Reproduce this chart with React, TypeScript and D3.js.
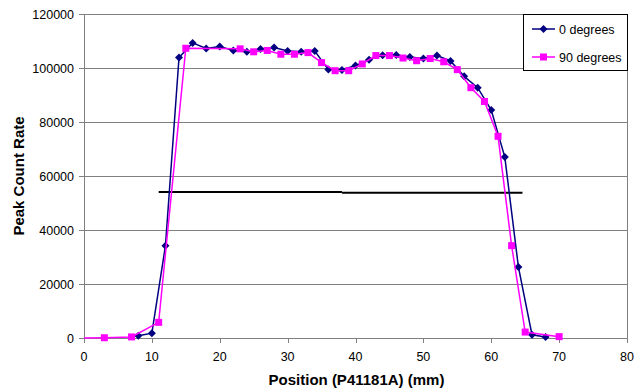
import React from "react";
import * as d3 from "d3";

const xTicks = [0, 10, 20, 30, 40, 50, 60, 70, 80];
const yTicks = [0, 20000, 40000, 60000, 80000, 100000, 120000];

const blueX = [8, 10, 12, 14, 16, 18, 20, 22, 24, 26, 28, 30, 32, 34, 36, 38, 40, 42, 44, 46, 48, 50, 52, 54, 56, 58, 60, 62, 64, 66, 68];
const blueY = [800, 1800, 34200, 103900, 109300, 107200, 108000, 106500, 106000, 107000, 107600, 106300, 106000, 106300, 99400, 99300, 100900, 103100, 104700, 104800, 104100, 103500, 104600, 102600, 96900, 92700, 84400, 67000, 26300, 1200, 400];

const pinkX = [-1, 3, 7, 11, 15, 23, 25, 27, 29, 31, 33, 35, 37, 39, 41, 43, 45, 47, 49, 51, 53, 55, 57, 59, 61, 63, 65, 70];
const pinkY = [0, 100, 400, 5800, 107300, 107100, 106000, 106500, 105100, 105100, 105700, 102000, 99000, 99000, 101500, 104600, 104600, 103700, 102700, 103500, 102300, 99400, 92700, 87600, 74700, 34200, 2200, 500];

const halfLeftX = [11, 38];
const halfLeftY = [54100, 54100];
const halfRightX = [38, 64.6];
const halfRightY = [53800, 53800];

const seriesNames = ["0 degrees", "90 degrees"];
const seriesColors = ["#000080", "#FF00FF"];

const W = 642, H = 389;
const L = 84, R = 627, T = 14, B = 338;

export default function App() {
  const x = d3.scaleLinear().domain([0, 80]).range([L, R]);
  const y = d3.scaleLinear().domain([0, 120000]).range([B, T]);
  const line = d3.line<[number, number]>().x(d => x(d[0])).y(d => y(d[1]));
  const blue: [number, number][] = blueX.map((v, i) => [v, blueY[i]]);
  const pink: [number, number][] = pinkX.map((v, i) => [v, pinkY[i]]);
  const hl: [number, number][] = halfLeftX.map((v, i) => [v, halfLeftY[i]]);
  const hr: [number, number][] = halfRightX.map((v, i) => [v, halfRightY[i]]);
  const font = "'Liberation Sans', Arial, sans-serif";
  const diamond = (cx: number, cy: number, r: number) => `M${cx},${cy - r}L${cx + r},${cy}L${cx},${cy + r}L${cx - r},${cy}Z`;

  return (
    <svg width={W} height={H} style={{ position: "absolute", left: 0, top: 0, background: "#fff" }} fontFamily={font}>
      <defs>
        <clipPath id="plot"><rect x={L} y={T - 5} width={R - L} height={B - T + 10} /></clipPath>
      </defs>
      <rect x={0} y={0} width={W} height={H} fill="#fff" />
      {yTicks.map(t => (
        <line key={"g" + t} x1={L} x2={R} y1={Math.round(y(t)) + 0.5} y2={Math.round(y(t)) + 0.5} stroke="#808080" strokeWidth={1} />
      ))}
      <line x1={R + 0.5} x2={R + 0.5} y1={T} y2={B} stroke="#808080" />
      <line x1={L + 0.5} x2={L + 0.5} y1={T} y2={B + 0.5} stroke="#808080" />
      {yTicks.map(t => (
        <g key={"y" + t}>
          <line x1={L - 5} x2={L} y1={Math.round(y(t)) + 0.5} y2={Math.round(y(t)) + 0.5} stroke="#808080" />
          <text x={74} y={y(t) + 4.5} textAnchor="end" fontSize={12.5} fill="#000">{t}</text>
        </g>
      ))}
      {xTicks.map(t => (
        <g key={"x" + t}>
          <line x1={Math.round(x(t)) + 0.5} x2={Math.round(x(t)) + 0.5} y1={B} y2={B + 5} stroke="#808080" />
          <text x={x(t)} y={361} textAnchor="middle" fontSize={12.5} fill="#000">{t}</text>
        </g>
      ))}
      <text x={(L + R) / 2 + 1} y={385} textAnchor="middle" fontSize={15} fontWeight="bold">Position (P41181A) (mm)</text>
      <text transform={`translate(24,${(T + B) / 2}) rotate(-90)`} textAnchor="middle" fontSize={15} fontWeight="bold">Peak Count Rate</text>

      <g clipPath="url(#plot)">
        <path d={line(hl) || ""} fill="none" stroke="#000" strokeWidth={2} />
        <path d={line(hr) || ""} fill="none" stroke="#000" strokeWidth={2} />
        <path d={line(blue) || ""} fill="none" stroke={seriesColors[0]} strokeWidth={1.5} />
        {blue.map((d, i) => (
          <path key={"b" + i} d={diamond(x(d[0]), y(d[1]), 4)} fill={seriesColors[0]} />
        ))}
        <path d={line(pink) || ""} fill="none" stroke={seriesColors[1]} strokeWidth={1.5} />
      </g>
      {pink.filter(d => d[0] >= 0).map((d, i) => (
        <rect key={"p" + i} x={x(d[0]) - 3.5} y={y(d[1]) - 3.5} width={7} height={7} fill={seriesColors[1]} />
      ))}

      <g>
        <rect x={523.5} y={14.5} width={104} height={56} fill="#fff" stroke="#000" strokeWidth={1} />
        {seriesNames.map((n, i) => {
          const cy = 29 + i * 28;
          return (
            <g key={n}>
              <line x1={532} x2={555} y1={cy} y2={cy} stroke={seriesColors[i]} strokeWidth={1.5} />
              {i === 0
                ? <path d={diamond(543.5, cy, 4)} fill={seriesColors[0]} />
                : <rect x={540} y={cy - 3.5} width={7} height={7} fill={seriesColors[1]} />}
              <text x={559} y={cy + 4.5} fontSize={12.5} fill="#000">{n}</text>
            </g>
          );
        })}
      </g>
    </svg>
  );
}
